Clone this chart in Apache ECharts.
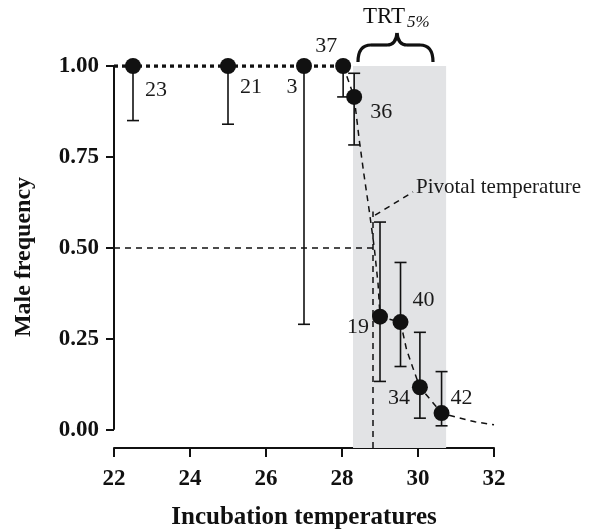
<!DOCTYPE html>
<html>
<head>
<meta charset="utf-8">
<script src="https://cdn.jsdelivr.net/npm/echarts@6/dist/echarts.min.js"></script>
<style>
  html, body { margin: 0; padding: 0; background: #fff; }
  #chart { width: 596px; height: 529px; }
</style>
</head>
<body>
<div id="chart"></div>
<script>
// incubation temperature, male frequency, sample size, error bar ends
var temps = [22.5, 25.0, 27.0, 28.03, 28.32, 29.0, 29.54, 30.05, 30.62]
var maleFreq = [1.0, 1.0, 1.0, 1.0, 0.915, 0.311, 0.296, 0.117, 0.046]
var sampleN = [23, 21, 3, 37, 36, 19, 40, 34, 42]
var errLow = [0.85, 0.84, 0.29, 0.915, 0.783, 0.133, 0.174, 0.032, 0.011]
var errHigh = [null, null, null, null, 0.98, 0.571, 0.46, 0.268, 0.16]

// fitted curve
var fitX = [28.03, 28.32, 28.45, 28.58, 28.72, 28.85, 28.95, 29.0, 29.54, 29.7, 29.9, 30.05, 30.35, 30.62, 31.0, 31.5, 32.0]
var fitY = [1.0, 0.915, 0.8, 0.7, 0.6, 0.5, 0.4, 0.311, 0.296, 0.22, 0.16, 0.117, 0.08, 0.046, 0.035, 0.022, 0.014]

var xTicks = [22, 24, 26, 28, 30, 32]
var yTicks = [0, 0.25, 0.5, 0.75, 1.0]

var pivotalT = 28.82
var trtRange = [28.29, 30.74]

// label offsets for the sample sizes (px)
var nOffsets = [[23, 24], [23, 21], [-12, 21], [-17, -20], [27, 15], [-22, 11], [23, -22], [-21, 11], [20, -15]]

var serif = 'Liberation Serif'
var ink = '#111'

let myChart = echarts.init(document.getElementById('chart'))

let plateau = []
let points = []
let bars = []
let fit = []
for (let i = 0; i < temps.length; i++) {
  if (maleFreq[i] >= 1.0) plateau.push([temps[i], maleFreq[i]])
  points.push({
    value: [temps[i], maleFreq[i], sampleN[i]],
    label: { offset: nOffsets[i] }
  })
  bars.push([temps[i], maleFreq[i], errLow[i], errHigh[i] == null ? maleFreq[i] : errHigh[i]])
}
plateau.unshift([xTicks[0], 1.0])
for (let i = 0; i < fitX.length; i++) fit.push([fitX[i], fitY[i]])

// curly brace over the TRT band
let braceStyle = { fill: null, stroke: ink, lineWidth: 3.2 }
let brace = [
  { type: 'bezierCurve', shape: { x1: 358, y1: 62, cpx1: 358, cpy1: 45, x2: 371, y2: 45 }, style: braceStyle },
  { type: 'line', shape: { x1: 371, y1: 45, x2: 387, y2: 45 }, style: braceStyle },
  { type: 'bezierCurve', shape: { x1: 387, y1: 45, cpx1: 396, cpy1: 45, x2: 397, y2: 33 }, style: braceStyle },
  { type: 'bezierCurve', shape: { x1: 397, y1: 33, cpx1: 398, cpy1: 45, x2: 407, y2: 45 }, style: braceStyle },
  { type: 'line', shape: { x1: 407, y1: 45, x2: 420, y2: 45 }, style: braceStyle },
  { type: 'bezierCurve', shape: { x1: 420, y1: 45, cpx1: 433, cpy1: 45, x2: 433, y2: 62 }, style: braceStyle }
]

myChart.setOption({
  animation: false,
  grid: { left: 114, right: 102, top: 66, bottom: 81, outerBoundsMode: 'none' },
  xAxis: {
    type: 'value',
    min: 22,
    max: 32,
    interval: 2,
    name: 'Incubation temperatures',
    nameLocation: 'middle',
    nameGap: 57,
    nameTextStyle: { fontFamily: serif, fontWeight: 'bold', fontSize: 25, color: ink },
    axisLine: { onZero: false, lineStyle: { color: ink, width: 2 } },
    axisTick: { length: 9, lineStyle: { color: ink, width: 2 } },
    axisLabel: { fontFamily: serif, fontWeight: 'bold', fontSize: 23, color: ink, margin: 20 },
    splitLine: { show: false }
  },
  yAxis: {
    type: 'value',
    min: -0.05,
    max: 1.0,
    name: 'Male frequency',
    nameLocation: 'middle',
    nameGap: 78,
    nameTextStyle: { fontFamily: serif, fontWeight: 'bold', fontSize: 24, color: ink },
    axisLine: { show: false },
    axisTick: { show: true, customValues: yTicks, length: 8, lineStyle: { color: ink, width: 2 } },
    axisLabel: {
      customValues: yTicks,
      fontFamily: serif, fontWeight: 'bold', fontSize: 23, color: ink, margin: 15,
      formatter: function (v) { return v.toFixed(2) }
    },
    splitLine: { show: false }
  },
  series: [
    {
      // TRT band + reference lines
      type: 'line',
      data: [],
      silent: true,
      markArea: {
        silent: true,
        itemStyle: { color: '#e2e3e5' },
        data: [[{ xAxis: trtRange[0] }, { xAxis: trtRange[1] }]]
      },
      markLine: {
        silent: true,
        symbol: 'none',
        label: { show: false },
        lineStyle: { color: ink, type: [6, 5], width: 1.5 },
        data: [
          [{ coord: [22, 0] }, { coord: [22, 1.0], lineStyle: { type: 'solid', width: 2, color: ink } }],
          [{ coord: [22, 0.5] }, { coord: [pivotalT, 0.5] }],
          [{ coord: [pivotalT, -0.05] }, { coord: [pivotalT, 0.6] }],
          [{ coord: [28.87, 0.59] }, { coord: [29.87, 0.654] }]
        ]
      }
    },
    {
      type: 'line',
      data: plateau,
      symbol: 'none',
      lineStyle: { color: ink, width: 3.5, type: [4, 4] },
      z: 3
    },
    {
      type: 'line',
      data: fit,
      symbol: 'none',
      lineStyle: { color: ink, width: 1.5, type: [6, 5] },
      z: 3
    },
    {
      type: 'custom',
      data: bars,
      z: 4,
      renderItem: function (params, api) {
        let x = api.value(0)
        let y = api.value(1)
        let p = api.coord([x, y])
        let kids = []
        let half = 6
        ;[api.value(2), api.value(3)].forEach(function (v) {
          if (Math.abs(v - y) < 1e-6) return
          let e = api.coord([x, v])
          kids.push({ type: 'line', shape: { x1: p[0], y1: p[1], x2: e[0], y2: e[1] }, style: { stroke: ink, lineWidth: 1.6 } })
          kids.push({ type: 'line', shape: { x1: e[0] - half, y1: e[1], x2: e[0] + half, y2: e[1] }, style: { stroke: ink, lineWidth: 1.6 } })
        })
        return { type: 'group', children: kids }
      }
    },
    {
      type: 'scatter',
      data: points,
      symbol: 'circle',
      symbolSize: 16,
      itemStyle: { color: ink, opacity: 1 },
      z: 5,
      label: {
        show: true,
        position: 'inside',
        fontFamily: serif,
        fontSize: 22,
        color: '#1a1a1a',
        formatter: function (p) { return p.value[2] }
      }
    }
  ],
  graphic: [
    { type: 'group', z: 100, children: brace },
    {
      type: 'text',
      left: 363,
      top: 5,
      z: 100,
      style: { text: 'TRT', font: '23px "Liberation Serif"', fill: ink }
    },
    {
      type: 'text',
      left: 407,
      top: 14,
      z: 100,
      style: { text: '5%', font: 'italic 17px "Liberation Serif"', fill: ink }
    },
    {
      type: 'text',
      left: 416,
      top: 177,
      z: 100,
      style: { text: 'Pivotal temperature', font: '21px "Liberation Serif"', fill: '#1a1a1a' }
    }
  ]
})
</script>
</body>
</html>
